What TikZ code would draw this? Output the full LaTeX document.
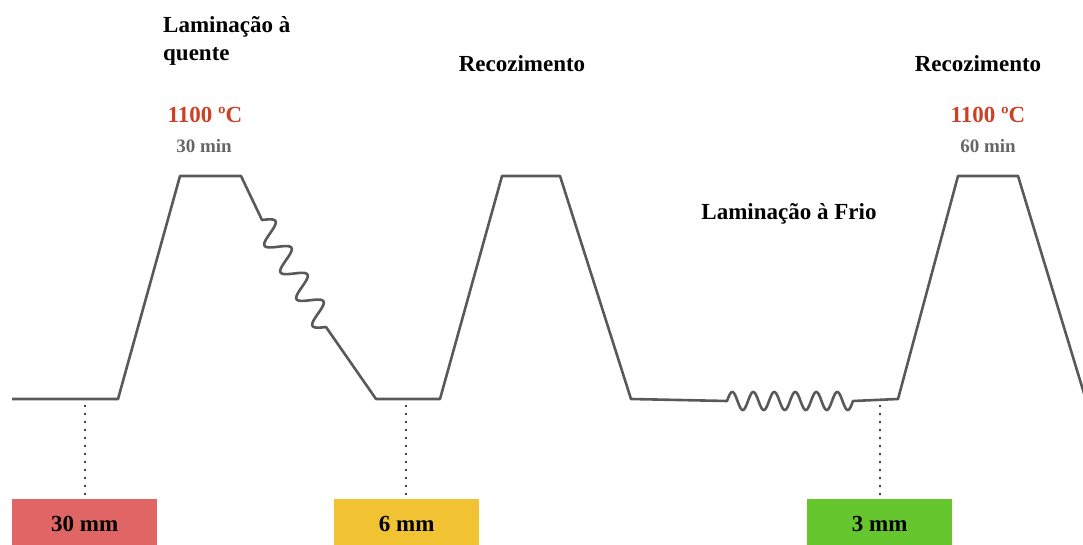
\documentclass[tikz,border=0pt]{standalone}
\usepackage{fontspec}
\setmainfont{Liberation Serif}
\definecolor{linegray}{HTML}{595959}
\definecolor{tred}{HTML}{CC4125}
\definecolor{tgray}{HTML}{666666}
\definecolor{bred}{HTML}{E06666}
\definecolor{byellow}{HTML}{F1C232}
\definecolor{bgreen}{HTML}{66C62E}
\tikzset{
  curve/.style={draw=linegray,line width=2.6pt,line join=round},
  lbl/.style={font=\bfseries\fontsize{23}{28}\selectfont,inner sep=0pt},
  temp/.style={font=\bfseries\fontsize{23}{28}\selectfont,text=tred,inner sep=0pt},
  dur/.style={font=\bfseries\fontsize{19}{22}\selectfont,text=tgray,inner sep=0pt},
  box/.style={font=\bfseries\fontsize{23}{28}\selectfont,minimum width=145pt,minimum height=50pt,inner sep=0pt,anchor=north west,text depth=0pt},
  dots/.style={draw=black,line width=2.2pt,dash pattern=on 0pt off 8pt,line cap=round},
}
\begin{document}
\begin{tikzpicture}[x=1pt,y=-1pt]
\useasboundingbox (0,0) rectangle (1083,545);
% curve points
\coordinate (p0) at (12,399);
\coordinate (p1) at (118,399);
\coordinate (p2) at (180,176);
\coordinate (p3) at (241,176);
\coordinate (z1) at (262,220);
\coordinate (z2) at (326,327);
\coordinate (p4) at (376,399);
\coordinate (p5) at (440,399);
\coordinate (p6) at (502,176);
\coordinate (p7) at (560,176);
\coordinate (p8) at (631,399);
\coordinate (p9) at (727,401);
\coordinate (p10) at (853,401);
\coordinate (p11) at (898,399);
\coordinate (p12) at (958,176);
\coordinate (p13) at (1018,176);
\coordinate (p14) at (1086,400);
\draw[curve] (p0) -- (p1) -- (p2) -- (p3) -- (z1)
  -- plot[domain=0:1,samples=240] ({262+64*\x+11*0.858*sin(1440*\x)},{220+107*\x-11*0.513*sin(1440*\x)})
  -- (z2) -- (p4) -- (p5) -- (p6) -- (p7) -- (p8) -- (p9)
  -- plot[domain=0:1,samples=240] ({727+126*\x},{401-9*sin(2160*\x)})
  -- (p10) -- (p11) -- (p12) -- (p13) -- (p14);
% boxes
\node[box,fill=bred] (b1) at (12,499) {30 mm};
\node[box,fill=byellow] (b2) at (334,499) {6 mm};
\node[box,fill=bgreen] (b3) at (807,499) {3 mm};
% dotted connectors
\coordinate (d1) at (85,406);
\coordinate (d2) at (406,406);
\coordinate (d3) at (880,406);
\draw[dots] (d1) -- (b1.north -| d1);
\draw[dots] (d2) -- (b2.north -| d2);
\draw[dots] (d3) -- (b3.north -| d3);
% labels
\node[lbl,anchor=base west] (l1) at (163,33) {Laminação à};
\node[lbl,anchor=base west] (l2) at (163,61) {quente};
\node[lbl,anchor=base] (r1) at (522,72) {Recozimento};
\node[lbl,anchor=base] (r2) at (978,72) {Recozimento};
\node[lbl,anchor=base] (lf) at (789,220) {Laminação à Frio};
\node[temp,anchor=base] (t1) at (205,123) {1100 ºC};
\node[temp,anchor=base] (t2) at (988,123) {1100 ºC};
\node[dur,anchor=base] (m1) at (204,153) {30 min};
\node[dur,anchor=base] (m2) at (988,153) {60 min};
\end{tikzpicture}
\end{document}
